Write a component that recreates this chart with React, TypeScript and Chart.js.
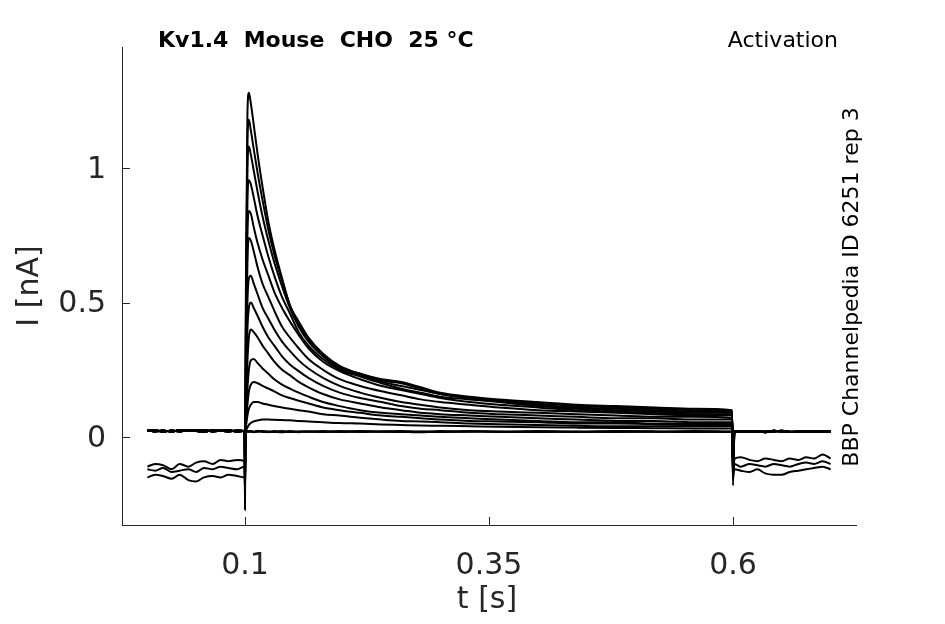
import { useEffect, useRef } from 'react';
import { Chart, registerables, type Plugin } from 'chart.js';

Chart.register(...registerables);

// time bases [s]
const preT = [0, 0.008, 0.016, 0.025, 0.033, 0.042, 0.05, 0.058, 0.067, 0.075, 0.083, 0.092, 0.0995];
const stepT = [0.1, 0.101, 0.1025, 0.104, 0.106, 0.109, 0.113, 0.118, 0.124, 0.13, 0.138, 0.146, 0.155, 0.165, 0.18, 0.197, 0.218, 0.24, 0.26, 0.28, 0.3, 0.33, 0.36, 0.4, 0.44, 0.48, 0.52, 0.56, 0.599, 0.6];
const postT = [0.6015, 0.608, 0.617, 0.625, 0.633, 0.642, 0.65, 0.658, 0.667, 0.675, 0.683, 0.692, 0.7];

// holding current before / after the step [nA]
const basePre = [0.022, 0.025, 0.02, 0.024, 0.021, 0.026, 0.022, 0.02, 0.025, 0.023, 0.021, 0.024, 0.022];
const basePre2 = [0.025, 0.021, 0.024, 0.02, 0.026, 0.022, 0.024, 0.025, 0.021, 0.024, 0.026, 0.02, 0.023];
const basePost = [0.02, 0.022, 0.019, 0.021, 0.02, 0.023, 0.02, 0.019, 0.021, 0.02, 0.022, 0.019, 0.02];
const basePost2 = [0.021, 0.019, 0.022, 0.02, 0.018, 0.021, 0.023, 0.02, 0.019, 0.022, 0.02, 0.021, 0.022];
const negPre1 = [-0.11, -0.1, -0.105, -0.12, -0.1, -0.11, -0.095, -0.09, -0.1, -0.085, -0.09, -0.085, -0.09];
const negPre2 = [-0.12, -0.125, -0.115, -0.13, -0.125, -0.12, -0.13, -0.115, -0.12, -0.11, -0.115, -0.12, -0.11];
const negPre3 = [-0.15, -0.14, -0.145, -0.155, -0.14, -0.16, -0.165, -0.15, -0.145, -0.15, -0.14, -0.145, -0.15];
const negPost1 = [-0.08, -0.075, -0.085, -0.09, -0.08, -0.085, -0.09, -0.08, -0.085, -0.075, -0.08, -0.065, -0.08];
const negPost2 = [-0.1, -0.11, -0.1, -0.105, -0.11, -0.1, -0.105, -0.11, -0.1, -0.095, -0.1, -0.09, -0.1];
const negPost3 = [-0.12, -0.125, -0.13, -0.12, -0.135, -0.14, -0.14, -0.13, -0.125, -0.12, -0.115, -0.11, -0.12];

// current during the step, one list per sweep [nA]
const stepA = [-0.27, 0.6, 1.2, 1.28, 1.24, 1.16, 1.05, 0.93, 0.8, 0.7, 0.59, 0.49, 0.43, 0.37, 0.31, 0.265, 0.235, 0.215, 0.205, 0.185, 0.165, 0.15, 0.14, 0.13, 0.12, 0.115, 0.11, 0.105, 0.1, -0.18];
const stepB = [-0.22, 0.5, 1.1, 1.18, 1.14, 1.07, 0.98, 0.88, 0.77, 0.68, 0.58, 0.49, 0.42, 0.36, 0.305, 0.26, 0.235, 0.21, 0.2, 0.18, 0.16, 0.145, 0.135, 0.125, 0.115, 0.11, 0.105, 0.1, 0.1, -0.15];
const stepC = [-0.18, 0.45, 1.0, 1.08, 1.05, 0.99, 0.91, 0.82, 0.73, 0.65, 0.56, 0.48, 0.41, 0.355, 0.3, 0.255, 0.23, 0.205, 0.19, 0.175, 0.16, 0.145, 0.135, 0.12, 0.11, 0.105, 0.1, 0.095, 0.095, -0.13];
const stepD = [-0.15, 0.4, 0.88, 0.955, 0.94, 0.89, 0.82, 0.75, 0.67, 0.6, 0.52, 0.46, 0.39, 0.34, 0.29, 0.25, 0.225, 0.2, 0.18, 0.165, 0.15, 0.14, 0.13, 0.115, 0.105, 0.1, 0.095, 0.09, 0.09, -0.11];
const stepE = [-0.12, 0.3, 0.75, 0.84, 0.83, 0.78, 0.72, 0.66, 0.6, 0.54, 0.48, 0.43, 0.38, 0.33, 0.28, 0.245, 0.215, 0.19, 0.175, 0.16, 0.145, 0.13, 0.12, 0.11, 0.1, 0.095, 0.09, 0.085, 0.085, -0.09];
const stepF = [-0.1, 0.25, 0.65, 0.74, 0.73, 0.69, 0.63, 0.57, 0.52, 0.47, 0.41, 0.37, 0.33, 0.29, 0.25, 0.215, 0.19, 0.17, 0.155, 0.14, 0.13, 0.12, 0.11, 0.1, 0.095, 0.09, 0.085, 0.08, 0.08, -0.07];
const stepG = [-0.08, 0.2, 0.5, 0.59, 0.6, 0.57, 0.53, 0.48, 0.44, 0.4, 0.355, 0.32, 0.285, 0.255, 0.22, 0.19, 0.165, 0.145, 0.13, 0.12, 0.11, 0.1, 0.095, 0.09, 0.085, 0.08, 0.075, 0.075, 0.07, -0.05];
const stepH = [-0.06, 0.15, 0.4, 0.48, 0.5, 0.48, 0.45, 0.41, 0.37, 0.34, 0.3, 0.27, 0.245, 0.22, 0.19, 0.165, 0.145, 0.13, 0.115, 0.105, 0.1, 0.09, 0.085, 0.08, 0.075, 0.07, 0.07, 0.065, 0.065, -0.03];
const stepI = [-0.04, 0.1, 0.28, 0.37, 0.4, 0.39, 0.37, 0.34, 0.31, 0.28, 0.25, 0.23, 0.205, 0.185, 0.16, 0.14, 0.125, 0.11, 0.1, 0.09, 0.085, 0.08, 0.075, 0.07, 0.065, 0.06, 0.06, 0.055, 0.055, -0.02];
const stepJ = [-0.02, 0.07, 0.18, 0.25, 0.285, 0.29, 0.275, 0.255, 0.235, 0.215, 0.195, 0.18, 0.165, 0.15, 0.13, 0.115, 0.1, 0.09, 0.085, 0.08, 0.075, 0.07, 0.065, 0.06, 0.055, 0.055, 0.05, 0.05, 0.05, 0.0];
const stepK = [0.0, 0.05, 0.12, 0.17, 0.195, 0.205, 0.2, 0.19, 0.18, 0.17, 0.155, 0.145, 0.135, 0.125, 0.11, 0.1, 0.09, 0.08, 0.075, 0.07, 0.065, 0.06, 0.058, 0.055, 0.05, 0.05, 0.048, 0.045, 0.045, 0.01];
const stepL = [0.01, 0.04, 0.08, 0.105, 0.12, 0.13, 0.13, 0.125, 0.12, 0.115, 0.11, 0.105, 0.1, 0.095, 0.085, 0.08, 0.072, 0.065, 0.06, 0.058, 0.055, 0.05, 0.048, 0.045, 0.042, 0.04, 0.04, 0.04, 0.04, 0.015];
const stepM = [0.02, 0.025, 0.035, 0.045, 0.052, 0.058, 0.062, 0.065, 0.065, 0.064, 0.063, 0.062, 0.06, 0.058, 0.055, 0.052, 0.05, 0.047, 0.045, 0.043, 0.042, 0.04, 0.038, 0.036, 0.035, 0.034, 0.033, 0.032, 0.032, 0.02];
const stepN = [-0.2, 0.02, 0.022, 0.019, 0.021, 0.02, 0.023, 0.019, 0.021, 0.02, 0.018, 0.022, 0.02, 0.021, 0.019, 0.02, 0.022, 0.02, 0.019, 0.021, 0.02, 0.022, 0.019, 0.02, 0.021, 0.019, 0.02, 0.022, 0.02, -0.16];
const stepO = [-0.16, 0.021, 0.019, 0.022, 0.02, 0.018, 0.021, 0.022, 0.02, 0.019, 0.022, 0.02, 0.018, 0.021, 0.02, 0.022, 0.019, 0.021, 0.02, 0.018, 0.022, 0.02, 0.021, 0.019, 0.02, 0.022, 0.021, 0.019, 0.021, -0.14];
const stepP = [-0.14, 0.019, 0.021, 0.02, 0.022, 0.019, 0.02, 0.021, 0.018, 0.022, 0.02, 0.019, 0.021, 0.02, 0.022, 0.019, 0.02, 0.021, 0.022, 0.02, 0.019, 0.021, 0.02, 0.022, 0.019, 0.021, 0.02, 0.02, 0.019, -0.12];

const sweeps = [
  [basePre, stepA, basePost],
  [basePre2, stepB, basePost2],
  [basePre, stepC, basePost],
  [basePre2, stepD, basePost2],
  [basePre, stepE, basePost],
  [basePre2, stepF, basePost2],
  [basePre, stepG, basePost],
  [basePre2, stepH, basePost2],
  [basePre, stepI, basePost],
  [basePre2, stepJ, basePost2],
  [basePre, stepK, basePost],
  [basePre2, stepL, basePost2],
  [basePre, stepM, basePost],
  [negPre1, stepN, negPost1],
  [negPre2, stepO, negPost2],
  [negPre3, stepP, negPost3],
];

const xTicks = [0.1, 0.35, 0.6];
const yTicks = [0, 0.5, 1];

const INK = '#262626';
const FONT = "'DejaVu Sans', sans-serif";

function toPoints([pre, step, post]: number[][]) {
  return [
    ...preT.map((t, i) => ({ x: t, y: pre[i] })),
    ...stepT.map((t, i) => ({ x: t, y: step[i] })),
    ...postT.map((t, i) => ({ x: t, y: post[i] })),
  ];
}

// inward tick marks plus the free-standing labels around the axes
const decorPlugin: Plugin<'line'> = {
  id: 'decor',
  afterDraw(chart) {
    const { ctx, chartArea } = chart;
    const xs = chart.scales.x;
    const ys = chart.scales.y;
    ctx.save();
    ctx.strokeStyle = INK;
    ctx.lineWidth = 1;
    ctx.beginPath();
    for (const v of xTicks) {
      const px = Math.round(xs.getPixelForValue(v)) + 0.5;
      ctx.moveTo(px, chartArea.bottom);
      ctx.lineTo(px, chartArea.bottom - 8);
    }
    for (const v of yTicks) {
      const py = Math.round(ys.getPixelForValue(v)) + 0.5;
      ctx.moveTo(chartArea.left, py);
      ctx.lineTo(chartArea.left + 8, py);
    }
    ctx.stroke();

    ctx.fillStyle = '#000';
    ctx.textBaseline = 'alphabetic';
    ctx.font = `bold 22px ${FONT}`;
    ctx.textAlign = 'left';
    ctx.fillText('Kv1.4  Mouse  CHO  25 °C', 158, 47);
    ctx.font = `22px ${FONT}`;
    ctx.textAlign = 'right';
    ctx.fillText('Activation', 838, 47);

    ctx.save();
    ctx.translate(858, 287);
    ctx.rotate(-Math.PI / 2);
    ctx.textAlign = 'center';
    ctx.fillText('BBP Channelpedia ID 6251 rep 3', 0, 0);
    ctx.restore();

    ctx.fillStyle = INK;
    ctx.font = `30px ${FONT}`;
    ctx.textAlign = 'center';
    ctx.fillText('t [s]', (chartArea.left + chartArea.right) / 2 - 2, 608);
    ctx.save();
    ctx.translate(38, (chartArea.top + chartArea.bottom) / 2);
    ctx.rotate(-Math.PI / 2);
    ctx.fillText('I [nA]', 0, 0);
    ctx.restore();
    ctx.restore();
  },
};

export default function App() {
  const canvasRef = useRef<HTMLCanvasElement>(null);

  useEffect(() => {
    const canvas = canvasRef.current;
    if (!canvas) return;
    const chart = new Chart(canvas, {
      type: 'line',
      data: {
        datasets: sweeps.map((s, i) => ({
          label: 'sweep ' + (i + 1),
          data: toPoints(s),
          borderColor: '#000',
          borderWidth: 2,
          pointRadius: 0,
          cubicInterpolationMode: 'monotone' as const,
        })),
      },
      options: {
        responsive: true,
        maintainAspectRatio: false,
        animation: false,
        layout: { padding: { left: 0, top: 47, right: 89, bottom: 0 } },
        plugins: { legend: { display: false }, tooltip: { enabled: false } },
        scales: {
          x: {
            type: 'linear',
            min: -0.026,
            max: 0.726,
            afterFit: (s) => { s.height = 99; },
            afterBuildTicks: (s) => { s.ticks = xTicks.map((v) => ({ value: v })); },
            grid: { display: false, drawTicks: false },
            border: { display: true, color: INK, width: 1 },
            ticks: {
              color: INK,
              font: { family: FONT, size: 30 },
              padding: 23,
              maxRotation: 0,
              callback: (v) => String(v),
            },
          },
          y: {
            type: 'linear',
            min: -0.327,
            max: 1.45,
            afterFit: (s) => { s.width = 122; },
            afterBuildTicks: (s) => { s.ticks = yTicks.map((v) => ({ value: v })); },
            grid: { display: false, drawTicks: false },
            border: { display: true, color: INK, width: 1 },
            ticks: {
              color: INK,
              font: { family: FONT, size: 30 },
              padding: 16,
              labelOffset: 2,
              callback: (v) => String(v),
            },
          },
        },
      },
      plugins: [decorPlugin],
    });
    return () => chart.destroy();
  }, []);

  return (
    <div style={{ position: 'fixed', left: 0, top: 0, width: 945, height: 624, background: '#fff' }}>
      <canvas ref={canvasRef} />
    </div>
  );
}
